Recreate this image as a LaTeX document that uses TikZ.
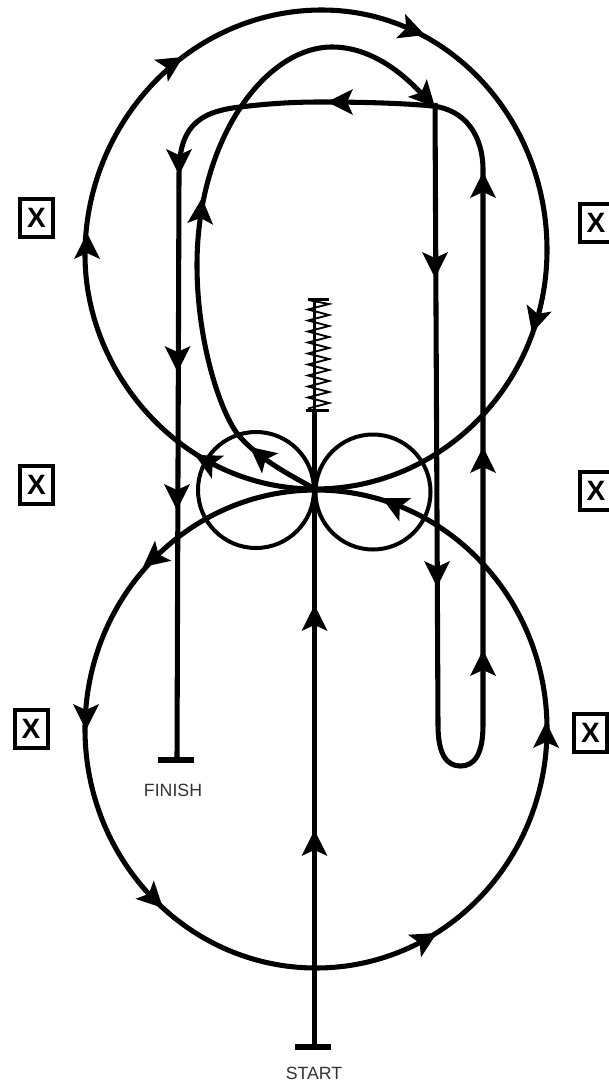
\documentclass[tikz,border=0pt]{standalone}
\usepackage{fontspec}
\setmainfont{Liberation Sans}
\tikzset{
  x=0.75pt,y=-0.75pt,
  trackline/.style={line width=3.8pt,black,line cap=butt},
  thinloop/.style={line width=3pt,black},
  xbox/.style={draw,line width=3pt,minimum width=24.75pt,minimum height=28.5pt,inner sep=0pt,font=\bfseries\fontsize{21}{21}\selectfont},
  endbar/.style={line width=3.8pt,black},
  caption/.style={font=\fontsize{13.3}{13.3}\selectfont,text=black!80,inner sep=0pt},
  headshape/.pic={\fill[black] (0,0) -- (-26,13) -- (-20,0) -- (-26,-13) -- cycle;}
}
\newcommand{\headat}[3]{\pic[rotate=#3] at (#1,#2) {headshape};}
\begin{document}
\begin{tikzpicture}
\useasboundingbox (0,0) rectangle (609,1088);
\clip (0,0) rectangle (609,1088);
\fill[white] (0,0) rectangle (609,1088);
% X boxes
\node[xbox] (xa) at (36.5,218) {X};
\node[xbox] (xb) at (596,222.5) {X};
\node[xbox] (xc) at (36.5,485) {X};
\node[xbox] (xd) at (596,491) {X};
\node[xbox] (xe) at (31,728.5) {X};
\node[xbox] (xf) at (590.5,733) {X};
% key points
\coordinate (startpt) at (314.5,1047);
\coordinate (springtop) at (314.5,300);
\coordinate (springbase) at (314.5,410);
\coordinate (hub) at (315,489);
\coordinate (finishpt) at (177,760);
% big circles
\draw[trackline] (hub) .. controls (184,489) and (85,375) .. (85,255)
  .. controls (85,122) and (190,10) .. (322,10)
  .. controls (446,10) and (547,117) .. (547,250)
  .. controls (547,382) and (443,489) .. (hub) -- cycle;
\draw[trackline] (316,729) ellipse [x radius=231,y radius=239];
% small loops
\draw[thinloop] (256,490) circle [radius=58];
\draw[thinloop] (373,492) circle [radius=57.5];
% centre line
\draw[trackline,line width=3.4pt] (startpt) -- (springbase);
\draw[line width=2.8pt] (springbase) -- (springtop);
\draw[line width=1.4pt] (308,300)
  \foreach \k in {0,...,9} { -- ({329},{304+\k*11}) -- ({308},{309.5+\k*11}) };
\draw[line width=2.2pt] (308,299.5) -- (329,299.5);
\draw[line width=2.2pt] (306,410.5) -- (329,410.5);
% start and finish
\draw[endbar] (295,1047) -- (331,1047);
\draw[endbar] (158,760) -- (194,760);
\node[caption] (starttext) at (314,1073) {START};
\node[caption] (finishtext) at (173,790) {FINISH};
% inner curve
\draw[trackline] (hub) .. controls (290,475) and (262,461) .. (240,437)
  .. controls (222,417) and (197,345) .. (197,265)
  .. controls (197,140) and (265,47) .. (332,47)
  .. controls (370,47) and (405,72) .. (433,107);
% long track
\draw[trackline] (435,103) -- (438,725) .. controls (438,755) and (447,766) .. (460.5,766)
  .. controls (474,766) and (483,755) .. (483,725) -- (483,170)
  .. controls (483,135) and (465,110) .. (433,106)
  .. controls (400,103) and (360,102) .. (320,102)
  .. controls (290,102) and (265,104) .. (240,107)
  .. controls (195,112) and (179,130) .. (179,175) -- (finishpt);
% arrowheads
\headat{314.5}{605}{90}
\headat{314.5}{830}{90}
\headat{143}{567}{219}
\headat{86}{730}{270}
\headat{163}{908}{315}
\headat{437}{933}{30}
\headat{546}{722}{90}
\headat{382}{498}{153}
\headat{87}{233}{90}
\headat{183}{57}{32}
\headat{425}{35}{-20}
\headat{532}{333}{254}
\headat{195}{455}{152}
\headat{250}{447}{141}
\headat{202}{198}{86}
\headat{435}{107}{-47}
\headat{435}{278}{270}
\headat{437}{587}{270}
\headat{483}{172}{90}
\headat{483}{447}{90}
\headat{483}{650}{90}
\headat{327}{102}{180}
\headat{179}{175}{270}
\headat{177.5}{372}{270}
\headat{177}{510}{270}
\end{tikzpicture}
\end{document}
